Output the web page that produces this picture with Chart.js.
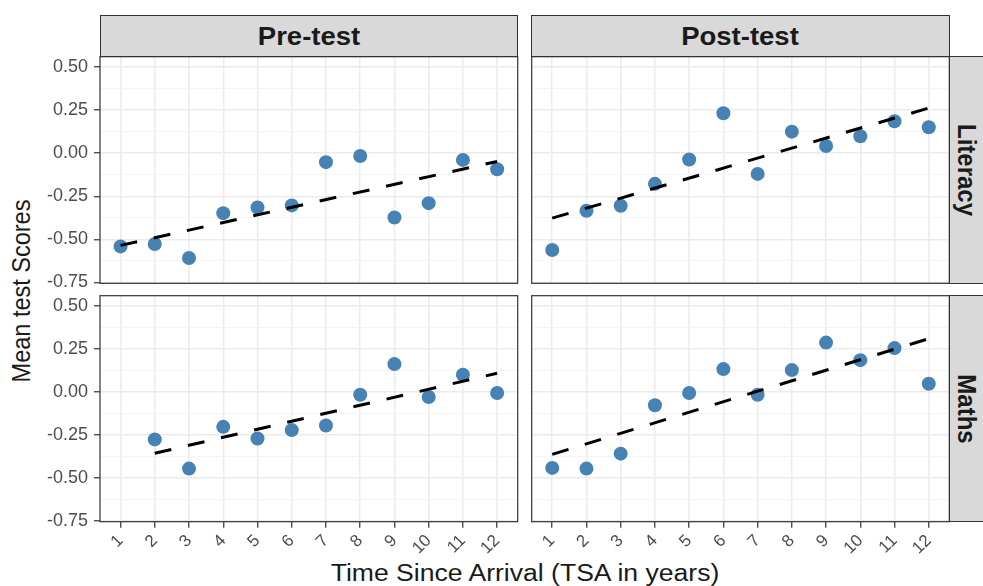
<!DOCTYPE html>
<html>
<head>
<meta charset="utf-8">
<script src="https://cdn.jsdelivr.net/npm/chart.js@4.4.1/dist/chart.umd.min.js"></script>
<style>
html, body { margin: 0; padding: 0; background: #fff; overflow: hidden; }
#wrap { position: relative; width: 983px; height: 586px; overflow: hidden; font-family: 'Liberation Sans', Arial, sans-serif; }
#wrap canvas { position: absolute; left: 0; top: 0; }
.strip { position: absolute; background: #d9d9d9; border: 1.2px solid #333; box-sizing: border-box; }
.lbl { position: absolute; white-space: nowrap; color: #1a1a1a; line-height: 1; }
</style>
</head>
<body>
<div id="wrap">
  <div class="strip" style="left:100px;top:15px;width:418px;height:42px"></div>
  <div class="strip" style="left:531px;top:15px;width:419px;height:42px"></div>
  <div class="strip" style="left:949px;top:56px;width:45px;height:228px"></div>
  <div class="strip" style="left:949px;top:295px;width:45px;height:227px"></div>

  <div class="lbl" style="left:309px;top:36px;font-size:25px;font-weight:bold;transform:translate(-50%,-50%) scaleX(1.1)">Pre-test</div>
  <div class="lbl" style="left:740px;top:36px;font-size:25px;font-weight:bold;transform:translate(-50%,-50%) scaleX(1.1)">Post-test</div>
  <div class="lbl" style="left:967px;top:170px;font-size:24px;font-weight:bold;transform:translate(-50%,-50%) rotate(90deg) scaleY(1.1)">Literacy</div>
  <div class="lbl" style="left:967px;top:409px;font-size:24px;font-weight:bold;transform:translate(-50%,-50%) rotate(90deg) scaleY(1.1)">Maths</div>
  <div class="lbl" style="left:22px;top:291px;font-size:23.5px;transform:translate(-50%,-50%) rotate(-90deg) scaleY(1.13)">Mean test Scores</div>
  <div class="lbl" style="left:525px;top:574px;font-size:23.5px;transform:translate(-50%,-50%) scaleX(1.13)">Time Since Arrival (TSA in years)</div>

  <canvas id="preLit" width="983" height="586"></canvas>
  <canvas id="postLit" width="983" height="586"></canvas>
  <canvas id="preMath" width="983" height="586"></canvas>
  <canvas id="postMath" width="983" height="586"></canvas>
</div>

<script>
// time since arrival (years)
const tsa = [1, 2, 3, 4, 5, 6, 7, 8, 9, 10, 11, 12];

// mean test scores per TSA year
const preLiteracy  = [-0.541, -0.527, -0.608, -0.348, -0.315, -0.303, -0.052, -0.016, -0.373, -0.290, -0.039, -0.093];
const postLiteracy = [-0.562, -0.334, -0.305, -0.178, -0.037, 0.232, -0.120, 0.125, 0.042, 0.098, 0.185, 0.151];
const preMaths     = [null, -0.276, -0.446, -0.203, -0.271, -0.222, -0.195, -0.016, 0.162, -0.029, 0.100, -0.006];
const postMaths    = [-0.442, -0.446, -0.359, -0.077, -0.006, 0.133, -0.016, 0.127, 0.287, 0.185, 0.255, 0.048];

// fitted trend lines (start and end of each)
const preLiteracyFitX  = [1, 12];
const preLiteracyFitY  = [-0.535, -0.048];
const postLiteracyFitX = [1, 12];
const postLiteracyFitY = [-0.377, 0.262];
const preMathsFitX     = [2, 12];
const preMathsFitY     = [-0.357, 0.109];
const postMathsFitX    = [1, 12];
const postMathsFitY    = [-0.363, 0.310];

// y axis ticks
const yMajor = [-0.75, -0.5, -0.25, 0, 0.25, 0.5];
const yMinor = [-0.625, -0.375, -0.125, 0.125, 0.375];

const W = 983, H = 586;
const font = "'Liberation Sans', Arial, sans-serif";
const yAxisW = 100, xAxisH = 60;

const frame = {
    id: 'frame',
    afterDraw(chart) {
        const a = chart.chartArea;
        const c = chart.ctx;
        c.save();
        c.strokeStyle = '#333';
        c.lineWidth = 1.2;
        c.strokeRect(a.left, a.top, a.right - a.left, a.bottom - a.top);
        c.restore();
    }
};

function isMajor(v) {
    return yMajor.some(m => Math.abs(m - v) < 1e-9);
}

function panel(id, values, fitX, fitY, box, showX, showY) {
    const points = [];
    tsa.forEach((x, i) => {
        if (values[i] !== null) points.push({ x: x, y: values[i] });
    });
    const fit = fitX.map((x, i) => ({ x: x, y: fitY[i] }));

    // axis boxes keep room for their labels, padding places the panel
    const yw = showY ? yAxisW : 0;
    const xh = showX ? xAxisH : 0;

    new Chart(document.getElementById(id), {
        type: 'scatter',
        data: {
            datasets: [{
                type: 'line',
                data: fit,
                borderColor: '#000',
                borderWidth: 3,
                borderDash: [17, 17],
                pointRadius: 0,
                fill: false,
                order: 0
            }, {
                data: points,
                pointRadius: 7,
                pointHoverRadius: 7,
                backgroundColor: '#4682b4',
                borderWidth: 0,
                order: 1
            }]
        },
        options: {
            responsive: false,
            animation: false,
            events: [],
            layout: {
                padding: { left: box[0] - yw, top: box[1], right: W - box[2], bottom: H - box[3] - xh }
            },
            plugins: {
                legend: { display: false },
                tooltip: { enabled: false }
            },
            scales: {
                x: {
                    type: 'linear',
                    min: 0.4,
                    max: 12.6,
                    afterBuildTicks: s => { s.ticks = tsa.map(v => ({ value: v })); },
                    afterFit: s => { s.height = xh; },
                    border: { display: false },
                    grid: {
                        color: '#ebebeb',
                        lineWidth: 1.5,
                        drawTicks: showX,
                        tickLength: 6,
                        tickColor: '#333',
                        tickWidth: 1.2
                    },
                    ticks: {
                        display: showX,
                        autoSkip: false,
                        minRotation: 45,
                        maxRotation: 45,
                        padding: 3,
                        color: '#4d4d4d',
                        font: { family: font, size: 17 },
                        callback: v => String(v)
                    }
                },
                y: {
                    type: 'linear',
                    min: -0.755,
                    max: 0.56,
                    afterBuildTicks: s => {
                        s.ticks = yMajor.concat(yMinor).sort((a, b) => a - b).map(v => ({ value: v }));
                    },
                    afterFit: s => { s.width = yw; },
                    border: { display: false },
                    grid: {
                        color: ctx => isMajor(ctx.tick.value) ? '#ebebeb' : '#f4f4f4',
                        lineWidth: ctx => isMajor(ctx.tick.value) ? 1.5 : 1,
                        drawTicks: showY,
                        tickLength: 6,
                        tickColor: ctx => isMajor(ctx.tick.value) ? '#333' : 'rgba(0,0,0,0)',
                        tickWidth: 1.2
                    },
                    ticks: {
                        display: showY,
                        autoSkip: false,
                        padding: 6,
                        color: '#4d4d4d',
                        font: { family: font, size: 18 },
                        callback: v => isMajor(v) ? v.toFixed(2) : ''
                    }
                }
            }
        },
        plugins: [frame]
    });
}

panel('preLit',  preLiteracy,  preLiteracyFitX,  preLiteracyFitY,  [100, 56.7, 517.7, 283.3], false, true);
panel('postLit', postLiteracy, postLiteracyFitX, postLiteracyFitY, [531.7, 56.7, 949.3, 283.3], false, false);
panel('preMath', preMaths,     preMathsFitX,     preMathsFitY,     [100, 295.7, 517.7, 521.7], true, true);
panel('postMath', postMaths,   postMathsFitX,    postMathsFitY,    [531.7, 295.7, 949.3, 521.7], true, false);
</script>
</body>
</html>
